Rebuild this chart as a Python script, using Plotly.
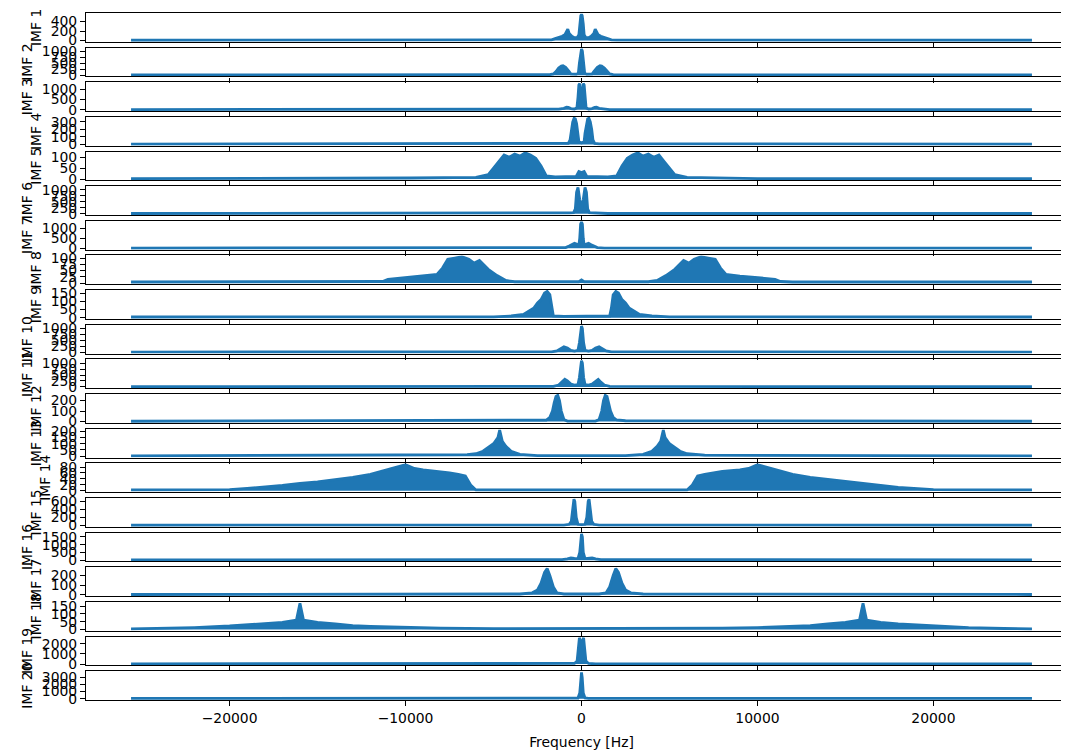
import plotly.graph_objects as go
from plotly.subplots import make_subplots

# ---------------- data (positive-frequency envelope, mirrored to negative side) -------------
imf_labels = [f"IMF {i}" for i in range(1, 21)]

imf1_f = [0, 40, 100, 150, 250, 400, 550, 700, 780, 850, 950, 1100, 1300, 1500, 1700, 2000, 25600]
imf1_a = [550, 520, 350, 120, 60, 60, 90, 150, 240, 200, 120, 90, 60, 40, 15, 8, 6]

imf2_f = [0, 50, 120, 180, 300, 600, 700, 900, 1050, 1150, 1300, 1450, 1600, 1800, 2200, 25600]
imf2_a = [1090, 1000, 500, 80, 40, 50, 150, 330, 390, 380, 300, 150, 50, 20, 10, 10]

imf3_f = [0, 60, 100, 150, 200, 260, 400, 600, 750, 850, 1000, 1300, 1600, 25600]
imf3_a = [500, 900, 1265, 1200, 600, 100, 40, 60, 120, 130, 70, 30, 10, 12]

imf4_f = [0, 150, 200, 280, 350, 420, 500, 580, 650, 750, 1000, 25600]
imf4_a = [20, 40, 150, 280, 340, 350, 300, 200, 60, 15, 8, 4]

imf5_f = [0, 150, 300, 1500, 2000, 2300, 2600, 2900, 3200, 3500, 3800, 4100, 4400, 4700, 5000, 5300, 6000, 9700, 10000, 25600]
imf5_a = [30, 35, 12, 10, 15, 60, 95, 110, 120, 105, 115, 100, 110, 80, 50, 20, 8, 5, 2, 2]

imf6_f = [0, 100, 200, 280, 350, 450, 700, 1000, 1500, 25600]
imf6_a = [200, 600, 1100, 900, 200, 50, 40, 20, 10, 10]

imf7_f = [0, 50, 100, 150, 250, 400, 550, 700, 900, 1300, 25600]
imf7_a = [1300, 1200, 500, 150, 200, 250, 180, 120, 40, 15, 12]

imf8_f = [0, 150, 3800, 4300, 4800, 5300, 5800, 6100, 6400, 6800, 7200, 7600, 7900, 8200, 9000, 10000, 11000, 11300, 12000, 25600]
imf8_a = [12, 5, 5, 10, 30, 55, 90, 80, 95, 105, 100, 95, 60, 35, 28, 22, 15, 6, 4, 4]

imf9_f = [0, 1000, 1600, 1700, 1800, 1950, 2100, 2300, 2500, 2700, 3000, 3300, 4000, 5000, 25600]
imf9_a = [10, 8, 10, 60, 140, 160, 150, 110, 90, 60, 40, 20, 10, 5, 4]

imf10_f = [0, 50, 120, 200, 400, 600, 800, 1000, 1200, 1400, 1700, 25600]
imf10_a = [1100, 1000, 400, 80, 50, 80, 180, 230, 150, 60, 20, 10]

imf11_f = [0, 50, 120, 200, 400, 600, 800, 950, 1100, 1300, 1600, 25600]
imf11_a = [1100, 1000, 400, 100, 80, 120, 250, 320, 200, 80, 20, 10]

imf12_f = [0, 800, 1000, 1150, 1250, 1350, 1450, 1550, 1650, 1800, 2000, 2500, 25600]
imf12_a = [5, 5, 20, 100, 200, 250, 240, 180, 100, 40, 15, 8, 3]

imf13_f = [0, 2500, 3500, 4000, 4300, 4500, 4650, 4750, 5000, 5300, 5600, 6000, 6500, 7000, 25600]
imf13_a = [5, 5, 15, 40, 80, 120, 210, 150, 100, 70, 40, 20, 12, 8, 3]

imf14_f = [0, 6000, 6300, 6600, 7000, 7500, 8000, 9000, 9500, 10000, 10500, 11000, 12000, 13000, 14000, 15000, 16000, 17000, 18000, 19000, 20000, 25600]
imf14_a = [3, 3, 20, 50, 55, 60, 65, 70, 75, 88, 80, 70, 55, 45, 38, 30, 25, 18, 12, 8, 4, 3]

imf15_f = [0, 200, 300, 380, 430, 500, 580, 700, 1000, 25600]
imf15_a = [20, 30, 200, 600, 650, 400, 100, 30, 10, 6]

imf16_f = [0, 50, 100, 200, 400, 600, 800, 1100, 25600]
imf16_a = [1700, 1500, 500, 100, 120, 150, 80, 30, 15]

imf17_f = [0, 1000, 1400, 1600, 1800, 1950, 2100, 2300, 2500, 2800, 3500, 25600]
imf17_a = [5, 8, 20, 80, 200, 270, 230, 120, 50, 20, 8, 3]

imf18_f = [0, 5000, 8000, 10000, 12000, 13000, 14000, 15000, 15800, 16000, 16200, 17000, 18000, 20000, 22000, 24000, 25600]
imf18_a = [5, 5, 8, 12, 20, 25, 35, 45, 60, 170, 60, 45, 35, 22, 12, 6, 3]

imf19_f = [0, 60, 120, 180, 250, 400, 800, 25600]
imf19_a = [1200, 2300, 2600, 1500, 300, 60, 20, 25]

imf20_f = [0, 40, 100, 200, 400, 25600]
imf20_a = [3700, 3000, 800, 100, 40, 35]

imf_freqs = [imf1_f, imf2_f, imf3_f, imf4_f, imf5_f, imf6_f, imf7_f, imf8_f, imf9_f, imf10_f,
             imf11_f, imf12_f, imf13_f, imf14_f, imf15_f, imf16_f, imf17_f, imf18_f, imf19_f, imf20_f]
imf_amps = [imf1_a, imf2_a, imf3_a, imf4_a, imf5_a, imf6_a, imf7_a, imf8_a, imf9_a, imf10_a,
            imf11_a, imf12_a, imf13_a, imf14_a, imf15_a, imf16_a, imf17_a, imf18_a, imf19_a, imf20_a]

y_ticks = [
    [0, 200, 400], [0, 250, 500, 750, 1000], [0, 500, 1000], [0, 100, 200, 300], [0, 50, 100],
    [0, 250, 500, 750, 1000], [0, 500, 1000], [0, 25, 50, 75, 100], [0, 50, 100, 150],
    [0, 250, 500, 750, 1000], [0, 250, 500, 750, 1000], [0, 100, 200], [0, 50, 100, 150, 200],
    [0, 20, 40, 60, 80], [0, 200, 400, 600], [0, 500, 1000, 1500], [0, 100, 200],
    [0, 50, 100, 150], [0, 1000, 2000], [0, 1000, 2000, 3000],
]

x_ticks = [-20000, -10000, 0, 10000, 20000]
x_range = [-28160, 28160]

# ---------------- figure ----------------
N = 20
BLUE = "#1f77b4"
FONT = "DejaVu Sans"
FS = 13.9

fig = make_subplots(rows=N, cols=1, shared_xaxes=True, vertical_spacing=0.00844)

for i in range(N):
    pf = imf_freqs[i]
    pa = imf_amps[i]
    f = [-v for v in reversed(pf[1:])] + pf
    a = list(reversed(pa[1:])) + pa
    fig.add_trace(
        go.Scatter(x=f, y=a, mode="lines", line=dict(color=BLUE, width=2.8),
                   fill="tozeroy", fillcolor=BLUE, showlegend=False, hoverinfo="skip"),
        row=i + 1, col=1,
    )
    m = max(pa)
    fig.update_yaxes(
        range=[-0.05 * m, 1.05 * m], tickvals=y_ticks[i], ticktext=[str(t) for t in y_ticks[i]],
        title=dict(text=imf_labels[i], font=dict(family=FONT, size=FS, color="black"), standoff=5),
        row=i + 1, col=1,
    )

fig.update_yaxes(
    automargin=False,
    showgrid=False, zeroline=False, showline=True, mirror=True, linecolor="black", linewidth=1.1,
    ticks="outside", ticklen=5, tickwidth=1.1, tickcolor="black",
    tickfont=dict(family=FONT, size=FS, color="black"),
)
fig.update_xaxes(
    automargin=False,
    range=x_range, tickvals=x_ticks, ticktext=["\u221220000", "\u221210000", "0", "10000", "20000"],
    showgrid=False, zeroline=False, showline=True, mirror=True, linecolor="black", linewidth=1.1,
    ticks="outside", ticklen=5, tickwidth=1.1, tickcolor="black",
    tickfont=dict(family=FONT, size=FS, color="black"),
)
fig.update_xaxes(
    title=dict(text="Frequency [Hz]", font=dict(family=FONT, size=FS, color="black"), standoff=12),
    row=N, col=1,
)

# the page body adds an 8px offset; margins compensate so the axes land where the reference has them
fig.update_layout(
    width=1069, height=752,
    margin=dict(l=78, r=0, t=5, b=60, autoexpand=False),
    plot_bgcolor="white", paper_bgcolor="white",
    font=dict(family=FONT, size=FS, color="black"),
    showlegend=False,
)

fig.write_html("out.html")
